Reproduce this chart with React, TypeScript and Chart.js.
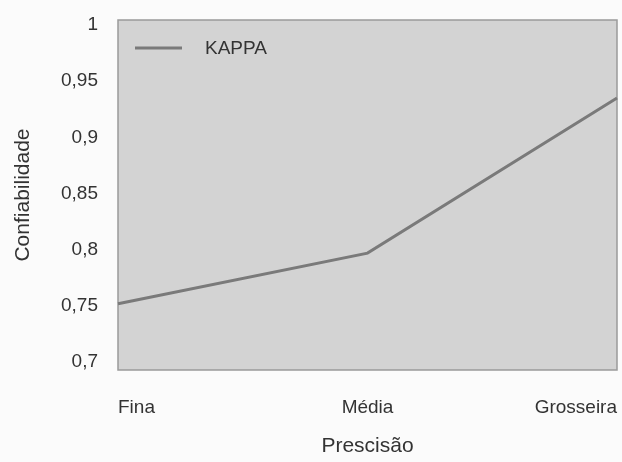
import React, { useEffect, useRef } from "react";
import { Chart, registerables } from "chart.js";

Chart.register(...registerables);

const categories = ["Fina", "Média", "Grosseira"];
const kappaValues = [0.752, 0.797, 0.935];
const yTicks = [0.7, 0.75, 0.8, 0.85, 0.9, 0.95, 1];
const seriesLabel = "KAPPA";
const xTitle = "Prescisão";
const yTitle = "Confiabilidade";

const FONT = "'Liberation Sans', Arial, sans-serif";
const TEXT = "#333333";

const bgPlugin = {
  id: "panelBg",
  beforeDraw(chart: any) {
    const { ctx, chartArea: a } = chart;
    ctx.save();
    ctx.fillStyle = "#fbfbfb";
    ctx.fillRect(0, 0, chart.width, chart.height);
    ctx.fillStyle = "#d3d3d3";
    ctx.fillRect(a.left, a.top, a.right - a.left, a.bottom - a.top);
    ctx.strokeStyle = "#9a9a9a";
    ctx.lineWidth = 1.5;
    ctx.strokeRect(a.left, a.top, a.right - a.left, a.bottom - a.top);
    ctx.restore();
  },
  afterDraw(chart: any) {
    const { ctx, chartArea: a } = chart;
    const ds = chart.data.datasets[0];
    ctx.save();
    const y = a.top + 28;
    ctx.strokeStyle = ds.borderColor;
    ctx.lineWidth = ds.borderWidth;
    ctx.beginPath();
    ctx.moveTo(a.left + 17, y);
    ctx.lineTo(a.left + 64, y);
    ctx.stroke();
    ctx.fillStyle = TEXT;
    ctx.font = `19px ${FONT}`;
    ctx.textBaseline = "middle";
    ctx.fillText(ds.label, a.left + 87, y + 1);
    ctx.restore();
  },
};

export default function App() {
  const ref = useRef<HTMLCanvasElement | null>(null);
  useEffect(() => {
    if (!ref.current) return;
    const chart = new Chart(ref.current, {
      type: "line",
      data: {
        labels: categories,
        datasets: [
          {
            label: seriesLabel,
            data: kappaValues,
            borderColor: "#7a7a7a",
            borderWidth: 3,
            pointRadius: 0,
            tension: 0,
            fill: false,
          },
        ],
      },
      options: {
        animation: false,
        responsive: false,
        maintainAspectRatio: false,
        layout: { padding: { left: 11, right: 5, top: 20, bottom: 0 } },
        plugins: { legend: { display: false }, tooltip: { enabled: false } },
        scales: {
          x: {
            type: "category",
            offset: false,
            grid: { display: false },
            border: { display: false },
            ticks: {
              align: "inner",
              padding: 18,
              color: TEXT,
              font: { family: FONT, size: 19 },
              maxRotation: 0,
            },
            title: {
              display: true,
              text: xTitle,
              color: TEXT,
              font: { family: FONT, size: 21 },
              padding: { top: 4, bottom: 3 },
            },
            afterFit: (s: any) => {
              s.height = 92;
              s.paddingLeft = 0;
              s.paddingRight = 0;
            },
          },
          y: {
            min: 0.693,
            max: 1.0045,
            grid: { display: false },
            border: { display: false },
            afterBuildTicks: (s: any) => {
              s.ticks = yTicks.map((v) => ({ value: v }));
            },
            ticks: {
              padding: 12,
              color: TEXT,
              font: { family: FONT, size: 19 },
              callback: (v: any) => String(+Number(v).toFixed(2)).replace(".", ","),
            },
            title: {
              display: true,
              text: yTitle,
              color: TEXT,
              font: { family: FONT, size: 21 },
              padding: { top: 0, bottom: 0 },
            },
            afterFit: (s: any) => {
              s.width = 107;
              s.paddingTop = 0;
              s.paddingBottom = 0;
            },
          },
        },
      },
      plugins: [bgPlugin],
    });
    return () => chart.destroy();
  }, []);
  return (
    <div style={{ position: "fixed", left: 0, top: 0, width: 622, height: 462 }}>
      <canvas ref={ref} width={622} height={462} style={{ width: 622, height: 462 }} />
    </div>
  );
}
